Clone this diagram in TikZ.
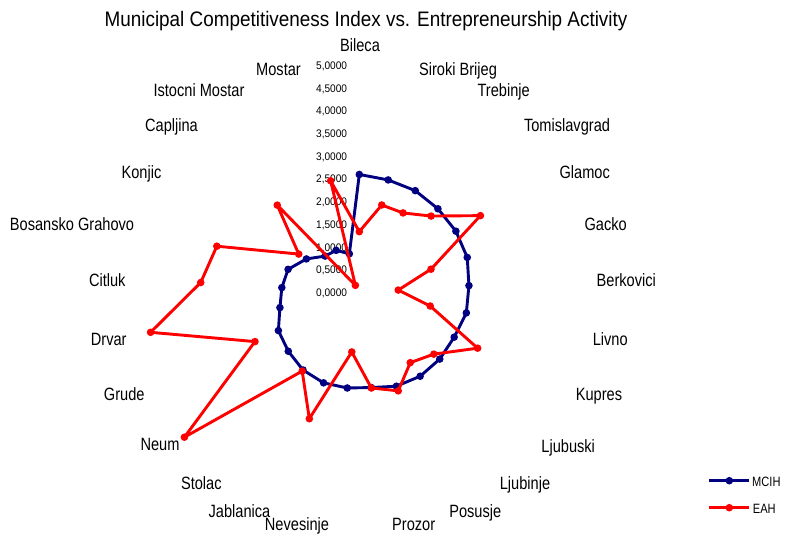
\documentclass[tikz,border=0pt]{standalone}
\usepackage{fontspec}
\setmainfont{Liberation Sans}
\newfontfamily\narrowfont[FakeStretch=0.82]{Liberation Sans}
\newfontfamily\titlefont[FakeStretch=0.9]{Liberation Sans}
\newfontfamily\axisfont[FakeStretch=0.92]{Liberation Sans}
\definecolor{navyc}{RGB}{0,0,128}
\definecolor{redc}{RGB}{255,0,0}
\begin{document}
\begin{tikzpicture}[x=1pt,y=-1pt,
  lbl/.style={font=\narrowfont\fontsize{17.8}{20}\selectfont, anchor=base, inner sep=0pt},
  axl/.style={font=\axisfont\fontsize{11}{13}\selectfont, anchor=base east, inner sep=0pt},
  leg/.style={font=\narrowfont\fontsize{13.5}{15}\selectfont, anchor=base west, inner sep=0pt},
  mcih/.style={draw=navyc, line width=2.9pt, line join=round},
  eah/.style={draw=redc, line width=2.9pt, line join=round},
  bdot/.style={fill=navyc},
  rdot/.style={fill=redc}]
\useasboundingbox (0,0) rectangle (787,535);
\def\cx{359.3}\def\cy{292.5}\def\sc{45.4}
% title
\node[font=\titlefont\fontsize{21}{24}\selectfont, anchor=base, inner sep=0pt] (title) at (366,26.5) {Municipal Competitiveness Index vs. Entrepreneurship Activity};
% axis labels
\foreach \k/\t in {0/0,1/0,2/1,3/1,4/2,5/2,6/3,7/3,8/4,9/4,10/5} {
  \pgfmathtruncatemacro{\half}{mod(\k,2)*5}
  \node[axl] (ax\k) at (347.3,{\cy-22.7*\k+3.9}) {\t,\half000};
}
% category labels
\node[lbl] (c1) at (360,51.3) {Bileca};
\node[lbl] (c2) at (458,75.6) {Siroki Brijeg};
\node[lbl] (c3) at (503.7,96.3) {Trebinje};
\node[lbl] (c4) at (567,131.3) {Tomislavgrad};
\node[lbl] (c5) at (584.7,178) {Glamoc};
\node[lbl] (c6) at (605.7,230.3) {Gacko};
\node[lbl] (c7) at (626.3,286.3) {Berkovici};
\node[lbl] (c8) at (610.2,345.6) {Livno};
\node[lbl] (c9) at (599,400.6) {Kupres};
\node[lbl] (c10) at (568.2,452) {Ljubuski};
\node[lbl] (c11) at (525,489) {Ljubinje};
\node[lbl] (c12) at (475.3,517) {Posusje};
\node[lbl] (c13) at (413.7,530.3) {Prozor};
\node[lbl] (c14) at (297,530.3) {Nevesinje};
\node[lbl] (c15) at (239.5,517.3) {Jablanica};
\node[lbl] (c16) at (201.3,489) {Stolac};
\node[lbl] (c17) at (160,450.6) {Neum};
\node[lbl] (c18) at (124.2,400.6) {Grude};
\node[lbl] (c19) at (108.7,345.6) {Drvar};
\node[lbl] (c20) at (107.3,286.3) {Citluk};
\node[lbl] (c21) at (72,230.3) {Bosansko Grahovo};
\node[lbl] (c22) at (141.5,178.3) {Konjic};
\node[lbl] (c23) at (171.5,131.3) {Capljina};
\node[lbl] (c24) at (199,96.3) {Istocni Mostar};
\node[lbl] (c25) at (278.5,75.3) {Mostar};
% data points
\foreach \v [count=\i] in {2.60,2.56,2.56,2.53,2.52,2.50,2.42,2.40,2.31,2.30,2.28,2.22,2.11,2.12,2.14,2.11,2.03,1.97,1.78,1.71,1.65,1.38,1.10,1.06,0.88} {
  \coordinate (b\i) at ({\cx+\sc*\v*cos(90-14.4*(\i-1))}, {\cy-\sc*\v*sin(90-14.4*(\i-1))});
}
\foreach \v [count=\i] in {1.34,1.99,2.00,2.31,3.16,1.66,0.86,1.59,2.88,2.13,1.91,2.33,2.12,1.32,2.99,2.14,5.00,2.54,4.68,3.50,3.30,1.58,2.64,0.18,2.54} {
  \coordinate (r\i) at ({\cx+\sc*\v*cos(90-14.4*(\i-1))}, {\cy-\sc*\v*sin(90-14.4*(\i-1))});
}
\draw[mcih] (b1) \foreach \i in {2,...,25} {-- (b\i)} -- cycle;
\foreach \i in {1,...,25} \fill[bdot] (b\i) circle (3.8pt);
\draw[eah] (r1) \foreach \i in {2,...,25} {-- (r\i)} -- cycle;
\foreach \i in {1,...,25} \fill[rdot] (r\i) circle (3.8pt);
% legend
\coordinate (lb1) at (709.3,480.7); \coordinate (lb2) at (749.3,480.7); \coordinate (lbm) at (729.3,480.7);
\coordinate (lr1) at (709.3,507.7); \coordinate (lr2) at (749.3,507.7); \coordinate (lrm) at (729.3,507.7);
\draw[mcih] (lb1) -- (lb2);
\fill[bdot] (lbm) circle (3.8pt);
\draw[eah] (lr1) -- (lr2);
\fill[rdot] (lrm) circle (3.8pt);
\node[leg] (lgb) at (752,486) {MCIH};
\node[leg] (lgr) at (752.7,513) {EAH};
\end{tikzpicture}
\end{document}
